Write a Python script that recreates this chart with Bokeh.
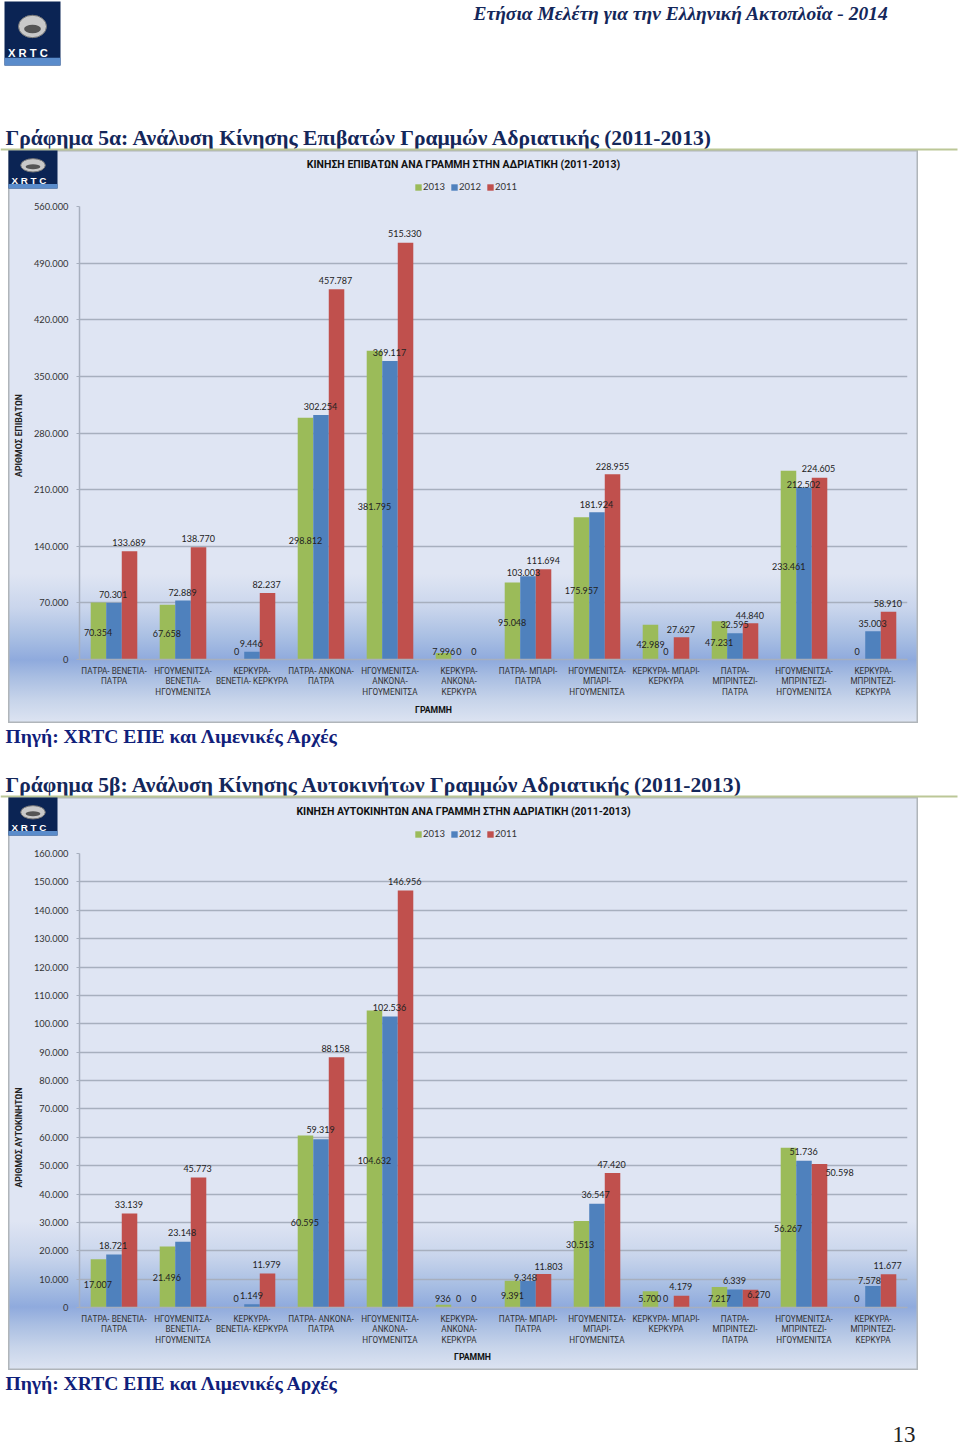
import math
from bokeh.plotting import figure
from bokeh.layouts import column
from bokeh.models import ColumnDataSource, FixedTicker, Range1d, FactorRange, Legend, LegendItem
from bokeh.transform import dodge
from bokeh.core.properties import value
from bokeh.embed import file_html
from bokeh.resources import INLINE

CATEGORIES = [
    "ΠΑΤΡΑ- ΒΕΝΕΤΙΑ-\nΠΑΤΡΑ", "ΗΓΟΥΜΕΝΙΤΣΑ-\nΒΕΝΕΤΙΑ-\nΗΓΟΥΜΕΝΙΤΣΑ", "ΚΕΡΚΥΡΑ-\nΒΕΝΕΤΙΑ- ΚΕΡΚΥΡΑ",
    "ΠΑΤΡΑ- ΑΝΚΟΝΑ-\nΠΑΤΡΑ", "ΗΓΟΥΜΕΝΙΤΣΑ-\nΑΝΚΟΝΑ-\nΗΓΟΥΜΕΝΙΤΣΑ", "ΚΕΡΚΥΡΑ-\nΑΝΚΟΝΑ-\nΚΕΡΚΥΡΑ",
    "ΠΑΤΡΑ- ΜΠΑΡΙ-\nΠΑΤΡΑ", "ΗΓΟΥΜΕΝΙΤΣΑ-\nΜΠΑΡΙ-\nΗΓΟΥΜΕΝΙΤΣΑ", "ΚΕΡΚΥΡΑ- ΜΠΑΡΙ-\nΚΕΡΚΥΡΑ",
    "ΠΑΤΡΑ-\nΜΠΡΙΝΤΕΖΙ-\nΠΑΤΡΑ", "ΗΓΟΥΜΕΝΙΤΣΑ-\nΜΠΡΙΝΤΕΖΙ-\nΗΓΟΥΜΕΝΙΤΣΑ", "ΚΕΡΚΥΡΑ-\nΜΠΡΙΝΤΕΖΙ-\nΚΕΡΚΥΡΑ",
]
YEARS = ["2013", "2012", "2011"]

PAX_2013 = [70354, 67658, 0, 298812, 381795, 7996, 95048, 175957, 42989, 47231, 233461, 0]
PAX_2012 = [70301, 72889, 9446, 302254, 369117, 0, 103003, 181924, 0, 32595, 212502, 35003]
PAX_2011 = [133689, 138770, 82237, 457787, 515330, 0, 111694, 228955, 27627, 44840, 224605, 58910]
CAR_2013 = [17007, 21496, 0, 60595, 104632, 936, 9391, 30513, 5700, 7217, 56267, 0]
CAR_2012 = [18721, 23148, 1149, 59319, 102536, 0, 9348, 36547, 0, 6339, 51736, 7578]
CAR_2011 = [33139, 45773, 11979, 88158, 146956, 0, 11803, 47420, 4179, 6270, 50598, 11677]

PAX_TICKS = [0, 70000, 140000, 210000, 280000, 350000, 420000, 490000, 560000]
CAR_TICKS = [0, 10000, 20000, 30000, 40000, 50000, 60000, 70000, 80000, 90000, 100000,
             110000, 120000, 130000, 140000, 150000, 160000]

# where the (deliberately displaced) data labels sit on the page, per series, per category
PAX_LABEL_XY = [
    [(97.5, 632.3), (166.3, 633.3), (236, 651.3), (305, 539.7), (374, 505.5), (443.3, 651.3),
     (511.7, 622.3), (581, 589.7), (650, 643.7), (718.7, 641.7), (788.3, 566.3), (856.7, 651.3)],
    [(112.7, 594), (182, 591.7), (250.7, 643.3), (320, 405.5), (389, 351.5), (458.3, 651.3),
     (523, 572), (596, 503.5), (665.3, 651.3), (734, 624.3), (803, 484), (872, 622.7)],
    [(128.5, 542.3), (197.7, 538.3), (266, 584), (335, 279.5), (404.3, 232.7), (473.3, 651.3),
     (542.7, 560.3), (612, 465.5), (680.3, 628.7), (749.3, 614.7), (818, 468), (887.3, 603.3)],
]
CAR_LABEL_XY = [
    [(97.3, 1284), (166.3, 1277.3), (235.7, 1298), (304.3, 1222), (374, 1159.5), (442.3, 1298),
     (512, 1295), (579.7, 1244.3), (649.3, 1298), (719, 1298), (787.7, 1228.3), (856.3, 1298)],
    [(112.7, 1244.7), (181.7, 1232.3), (251, 1294.7), (320, 1129), (389, 1006.5), (458, 1298),
     (525, 1276.7), (595, 1194), (665, 1298), (734, 1280), (803, 1151), (869, 1280.3)],
    [(128.3, 1204), (197, 1168), (266, 1264), (335, 1048), (404.3, 881), (473.3, 1298),
     (548, 1266), (611, 1164), (680.3, 1286.3), (758.3, 1294.3), (839, 1172), (887, 1264.7)],
]

GREEN, BLUE, RED = "#9BBB59", "#4F81BD", "#C0504D"
NAVY = "#14275a"
SRC = "#10207a"
SERIF = "Liberation Serif"
SANS = "Roboto"
GRID = "#a7afbe"
FONT_NUM = "Lato"

GRADIENT = ("linear-gradient(to bottom, #dfe5f3 0%, #dfe5f3 74%, #c9d5ec 80%, #a9bfe3 85%, "
            "#8faadd 89%, #a9bee2 92%, #c7d4ea 96%, #dde4f2 100%)")


def fmt(v):
    return f"{v:,}".replace(",", ".")


def ptext(p, x, y, s, size, color, font=SERIF, style="bold", align="left", angle=0):
    p.text(x=[x], y=[y], text=[s], text_font=value(font), text_font_size=f"{size}px",
           text_font_style=style, text_color=color, text_align=align, text_baseline="middle", angle=angle)


def draw_logo(p, x0, y0, w, h):
    p.quad(left=[x0], right=[x0 + w], top=[y0], bottom=[y0 + h], fill_color="#0b2454", line_color=None)
    p.quad(left=[x0], right=[x0 + w], top=[y0 + h * .88], bottom=[y0 + h], fill_color="#5a8ccb", line_color=None)
    p.ellipse(x=[x0 + w * .5], y=[y0 + h * .39], width=[w * .5], height=[h * .35],
              fill_color="#c9c9c9", line_color="#777777")
    p.ellipse(x=[x0 + w * .5], y=[y0 + h * .43], width=[w * .3], height=[h * .13],
              fill_color="#555555", line_color=None)
    ptext(p, x0 + w * .5, y0 + h * .8, "X  R  T  C", w * .2, "white", font="Liberation Sans", align="center")


def chart(ticks, ymax, series, label_xy, page_top, bottom_b, margin_top):
    W, H = 910, 573
    L, R, T, B = 71, 11, 56, bottom_b
    fl, ft = 8 + L, page_top + T
    fw, fh = W - L - R, H - T - B
    fb = ft + fh
    p = figure(width=W, height=H, x_range=FactorRange(factors=CATEGORIES, range_padding=0),
               y_range=Range1d(0, ymax), toolbar_location=None, output_backend="svg",
               min_border_left=L, min_border_right=R, min_border_top=T, min_border_bottom=B,
               outline_line_color=None, background_fill_color=None, border_fill_color=None,
               frame_align=False, margin=(margin_top, 0, 0, 8),
               styles={"background": GRADIENT, "box-shadow": "inset 0 0 0 1.5px #b0b5ba"})
    p.xgrid.visible = False
    p.ygrid.grid_line_color = GRID
    p.ygrid.grid_line_width = 1.5
    p.yaxis.ticker = FixedTicker(ticks=ticks)
    p.yaxis.major_label_overrides = {t: fmt(t) for t in ticks}
    p.yaxis.major_label_text_font = FONT_NUM
    p.yaxis.major_label_text_font_size = "9.3px"
    p.yaxis.major_label_text_color = "#333333"
    p.yaxis.major_tick_in = 0
    p.yaxis.major_tick_out = 3
    p.yaxis.minor_tick_line_color = None
    p.yaxis.major_label_standoff = 8
    p.xaxis.minor_tick_line_color = None
    p.xaxis.major_label_text_font = SANS
    p.xaxis.major_label_text_font_size = "8.2px"
    p.xaxis.major_label_text_color = "#333333"
    p.xaxis.major_label_text_line_height = 1.08
    p.xaxis.major_label_standoff = 0
    p.xaxis.major_label_orientation = "horizontal"
    p.axis.axis_line_color = GRID
    p.axis.axis_line_width = 1.5
    p.axis.major_tick_line_color = GRID
    p.xaxis.major_tick_line_color = None

    cw = fw / 12
    for s, (vals, year, col) in enumerate(zip(series, YEARS, (GREEN, BLUE, RED))):
        off = (s - 1) * 0.225
        src = ColumnDataSource(dict(cat=CATEGORIES, v=vals))
        p.vbar(x=dodge("cat", off, range=p.x_range), top="v", bottom=0, width=0.225,
               source=src, fill_color=col, line_color=None)
    for s, vals in enumerate(series):
        off = (s - 1) * 0.225
        dx, dy = [], []
        for g, v in enumerate(vals):
            ax = fl + (g + 0.5 + off) * cw
            ay = fb - v / ymax * fh
            dx.append(label_xy[s][g][0] - ax)
            dy.append(label_xy[s][g][1] - ay)
        src = ColumnDataSource(dict(cat=CATEGORIES, v=vals, t=[fmt(v) for v in vals], dx=dx, dy=dy))
        p.text(x=dodge("cat", off, range=p.x_range), y="v", text="t", x_offset="dx", y_offset="dy",
               source=src, text_font=value(FONT_NUM), text_font_size="9px", text_color="#222222",
               text_align="center", text_baseline="middle")
    return p


# ---- transparent sheet over the whole page: everything that lies outside the plot frames
sheet = figure(width=960, height=1447, toolbar_location=None, output_backend="svg",
               x_range=Range1d(0, 960), y_range=Range1d(1447, 0), min_border=0, frame_align=False,
               outline_line_color=None, background_fill_color=None, border_fill_color=None,
               styles={"position": "absolute", "top": "0px", "left": "0px", "z-index": "5",
                       "width": "960px", "height": "1447px"})
sheet.axis.visible = False
sheet.grid.visible = False

draw_logo(sheet, 4, 1, 56, 64)
ptext(sheet, 473, 13, "Ετήσια Μελέτη για την Ελληνική Ακτοπλοΐα - 2014", 19.5, NAVY, style="bold italic")
ptext(sheet, 5, 137, "Γράφημα 5α: Ανάλυση Κίνησης Επιβατών Γραμμών Αδριατικής (2011-2013)", 21.6, NAVY)
sheet.line(x=[0, 957], y=[149, 149], line_color="#bcc797", line_width=2)
ptext(sheet, 5, 736, "Πηγή: XRTC ΕΠΕ και Λιμενικές Αρχές", 19.6, SRC)
ptext(sheet, 5, 784, "Γράφημα 5β: Ανάλυση Κίνησης Αυτοκινήτων Γραμμών Αδριατικής (2011-2013)", 21.6, NAVY)
sheet.line(x=[0, 957], y=[796, 796], line_color="#bcc797", line_width=2)
ptext(sheet, 5, 1383, "Πηγή: XRTC ΕΠΕ και Λιμενικές Αρχές", 19.6, SRC)
ptext(sheet, 915, 1433.5, "13", 23, "#222222", style="normal", align="right")

for top, title, tx, ytitle, yty, gx in (
    (150, "ΚΙΝΗΣΗ ΕΠΙΒΑΤΩΝ ΑΝΑ ΓΡΑΜΜΗ ΣΤΗΝ ΑΔΡΙΑΤΙΚΗ (2011-2013)", 463, "ΑΡΙΘΜΟΣ ΕΠΙΒΑΤΩΝ", 435, 433),
    (797, "ΚΙΝΗΣΗ ΑΥΤΟΚΙΝΗΤΩΝ ΑΝΑ ΓΡΑΜΜΗ ΣΤΗΝ ΑΔΡΙΑΤΙΚΗ (2011-2013)", 463, "ΑΡΙΘΜΟΣ ΑΥΤΟΚΙΝΗΤΩΝ", 1137, 472),
):
    draw_logo(sheet, 8, top, 49, 38)
    ptext(sheet, tx, top + 14, title, 10.5, "#111111", font=SANS, align="center")
    ptext(sheet, 18, yty, ytitle, 8.7, "#222222", font=SANS, align="center", angle=math.pi / 2)
    ptext(sheet, gx, top + 559.5, "ΓΡΑΜΜΗ", 8.7, "#111111", font=SANS, align="center")
    items = []
    for year, col in zip(YEARS, (GREEN, BLUE, RED)):
        nothing = [float("nan")]
        r = sheet.quad(left=nothing, right=nothing, top=nothing, bottom=nothing, fill_color=col, line_color=None)
        items.append(LegendItem(label=year, renderers=[r]))
    leg = Legend(items=items, orientation="horizontal", location=(414, 1447 - (top + 42)),
                 background_fill_alpha=0, border_line_color=None, padding=0, margin=0, spacing=5,
                 glyph_width=8, glyph_height=8, label_standoff=1, label_height=8,
                 label_text_font=FONT_NUM, label_text_font_size="9.5px", label_text_color="#333333")
    sheet.add_layout(leg)

c1 = chart(PAX_TICKS, 560000, (PAX_2013, PAX_2012, PAX_2011), PAX_LABEL_XY, 150, 64, 150)
c2 = chart(CAR_TICKS, 160000, (CAR_2013, CAR_2012, CAR_2011), CAR_LABEL_XY, 797, 63, 74)

page = column(sheet, c1, c2, spacing=0, width=960, height=1447)
open("out.html", "w").write(file_html(page, INLINE))
